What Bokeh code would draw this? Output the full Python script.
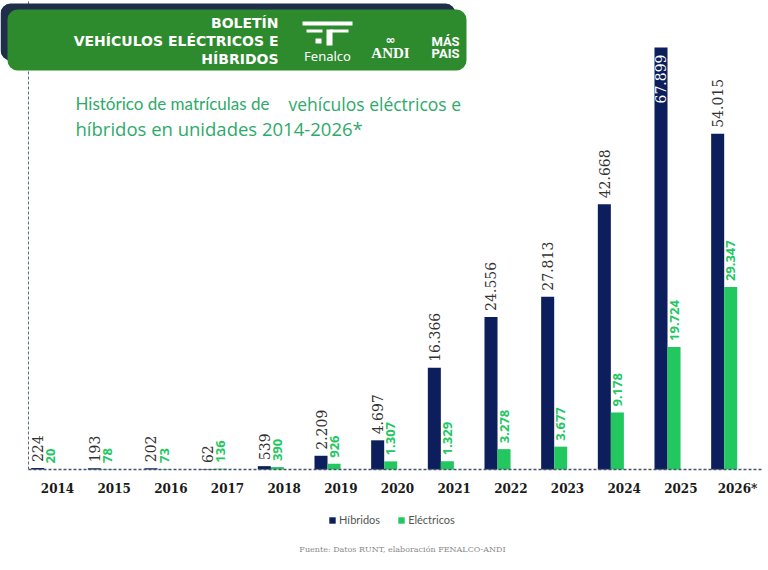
"""Histórico de matrículas de vehículos eléctricos e híbridos 2014-2026*."""
import math

from bokeh.core.properties import value
from bokeh.embed import file_html
from bokeh.models import (BoxAnnotation, ColumnDataSource, FixedTicker, Label,
                          LabelSet, Legend, LegendItem, Range1d)
from bokeh.plotting import figure
from bokeh.resources import INLINE

# Data
years = ["2014", "2015", "2016", "2017", "2018", "2019", "2020",
         "2021", "2022", "2023", "2024", "2025", "2026*"]
hibridos = [224, 193, 202, 62, 539, 2209, 4697,
            16366, 24556, 27813, 42668, 67899, 54015]
electricos = [20, 78, 73, 136, 390, 926, 1307,
              1329, 3278, 3677, 9178, 19724, 29347]

NAVY = "#0c1f5c"
GREEN = "#22c760"
TITLE_GREEN = "#2eaa6a"
HEADER_GREEN = "#2d8a2d"

# left edge of the axes and right end of the baseline, in category units
X_LEFT = -0.512
X_RIGHT = 12.44


def fmt(v):
    # Spanish thousands separator
    return f"{v:,}".replace(",", ".")


idx = list(range(len(years)))
src = ColumnDataSource(data=dict(
    x_h=[i - 0.35 for i in idx],
    x_e=[i - 0.12 for i in idx],
    hibridos=hibridos,
    electricos=electricos,
))

# the frame fills the whole canvas; axes sit at fixed locations inside it
p = figure(
    width=768, height=570,
    x_range=Range1d(-1.006, 12.547),
    y_range=Range1d(-16251, 75462),
    output_backend="svg",
    toolbar_location=None,
    min_border=0,
)
p.outline_line_color = None
p.grid.grid_line_color = None
p.background_fill_color = "white"

r_h = p.vbar(x="x_h", top="hibridos", width=0.23, source=src,
             fill_color=NAVY, line_color=None)
r_e = p.vbar(x="x_e", top="electricos", width=0.23, source=src,
             fill_color=GREEN, line_color=None)

# axes: dashed lines, year labels only on x
xa = p.xaxis[0]
xa.fixed_location = 0
xa.bounds = (X_LEFT, X_RIGHT)
xa.ticker = FixedTicker(ticks=idx)
xa.major_label_overrides = {i: y for i, y in zip(idx, years)}
xa.axis_line_color = "#44546a"
xa.axis_line_dash = "3 2"
xa.axis_line_width = 1.3
xa.major_tick_line_color = None
xa.minor_tick_line_color = None
xa.major_tick_out = 0
xa.major_label_standoff = 13
xa.major_label_text_font = "DejaVu Serif"
xa.major_label_text_font_style = "bold"
xa.major_label_text_font_size = "12px"
xa.major_label_text_color = "#1a1a1a"

ya = p.yaxis[0]
ya.fixed_location = X_LEFT
ya.bounds = (0, 75462)
ya.ticker = FixedTicker(ticks=[])
ya.axis_line_color = "#5a6a80"
ya.axis_line_dash = "3 2"
ya.major_tick_line_color = None
ya.minor_tick_line_color = None

# value labels
top_h = max(hibridos)
out_h = [i for i in idx if hibridos[i] != top_h]
in_h = [i for i in idx if hibridos[i] == top_h]
lab_h = ColumnDataSource(data=dict(
    x=[i - 0.35 for i in out_h],
    y=[hibridos[i] for i in out_h],
    t=[fmt(hibridos[i]) for i in out_h]))
lab_hin = ColumnDataSource(data=dict(
    x=[i - 0.35 for i in in_h],
    y=[hibridos[i] for i in in_h],
    t=[fmt(hibridos[i]) for i in in_h]))
lab_e = ColumnDataSource(data=dict(
    x=[i - 0.12 for i in idx], y=electricos,
    t=[fmt(v) for v in electricos]))

p.add_layout(LabelSet(x="x", y="y", text="t", source=lab_h,
                      angle=math.pi / 2, y_offset=6,
                      text_align="left", text_baseline="middle",
                      text_font=value("DejaVu Serif"),
                      text_font_size="14px", text_color="#333333"))
p.add_layout(LabelSet(x="x", y="y", text="t", source=lab_hin,
                      angle=math.pi / 2, y_offset=-7,
                      text_align="right", text_baseline="middle",
                      text_font=value("DejaVu Serif"),
                      text_font_size="14px", text_color="white"))
p.add_layout(LabelSet(x="x", y="y", text="t", source=lab_e,
                      angle=math.pi / 2, y_offset=6,
                      text_align="left", text_baseline="middle",
                      text_font=value("Noto Sans"), text_font_style="bold",
                      text_font_size="13px", text_color=GREEN))


def screen_box(l, r, b, t, color, radius=0):
    # screen units: x from the left, y up from the bottom of the canvas
    p.add_layout(BoxAnnotation(left=l, right=r, bottom=b, top=t,
                               left_units="screen", right_units="screen",
                               bottom_units="screen", top_units="screen",
                               fill_color=color, fill_alpha=1,
                               line_color=None, border_radius=radius))


def screen_label(text, x, y, size, font, color, style="normal",
                 align="left"):
    p.add_layout(Label(x=x, y=y, x_units="screen", y_units="screen",
                       text=text, text_font_size=size,
                       text_font=font, text_font_style=style,
                       text_color=color, text_align=align,
                       text_baseline="middle"))


# header banner
screen_box(0, 455, 510, 567, "#1f2f4a", 10)
screen_box(7, 466, 500, 561, HEADER_GREEN, 10)

# Fenalco mark, roughly
for l, r, b, t in [(302, 352, 545, 549), (306, 322, 538, 541),
                   (330, 348, 538, 541), (326, 332, 525, 541),
                   (315, 321, 527, 532)]:
    screen_box(l, r, b, t, "white")

for txt, yy in [("BOLETÍN", 548), ("VEHÍCULOS ELÉCTRICOS E", 530),
                ("HÍBRIDOS", 512)]:
    screen_label(txt, 278, yy, "14px", "DejaVu Sans", "white", "bold",
                 "right")
screen_label("Fenalco", 327, 515, "13px", "Noto Sans", "white",
             align="center")
screen_label("∞", 390, 531, "12px", "DejaVu Sans", "white", "bold",
             "center")
screen_label("ANDI", 390, 518, "15px", "Liberation Serif", "white", "bold",
             "center")
screen_label("MÁS", 445, 529, "13px", "Roboto", "white", "bold", "center")
screen_label("PAIS", 445, 517, "13px", "Roboto", "white", "bold", "center")

# chart title
screen_label("Histórico de matrículas de", 75, 467, "17px", "Lato",
             TITLE_GREEN)
screen_label("vehículos eléctricos e", 288, 467, "17.5px", "Open Sans",
             TITLE_GREEN)
screen_label("híbridos en unidades 2014-2026*", 75, 442, "18.5px",
             "Open Sans", TITLE_GREEN)

# legend and source note under the axis
legend = Legend(items=[LegendItem(label="Híbridos", renderers=[r_h]),
                       LegendItem(label="Eléctricos", renderers=[r_e])],
                orientation="horizontal", location=(328, 44),
                glyph_width=8, glyph_height=8, spacing=17, padding=0,
                margin=0, label_standoff=3, border_line_color=None,
                background_fill_alpha=0,
                label_text_font="Lato", label_text_font_size="11px",
                label_text_color="#555555")
p.add_layout(legend)

screen_label("Fuente: Datos RUNT, elaboración FENALCO-ANDI", 402, 21,
             "8px", "DejaVu Serif", "#8a8a8a", align="center")

open("out.html", "w").write(file_html(p, INLINE))
